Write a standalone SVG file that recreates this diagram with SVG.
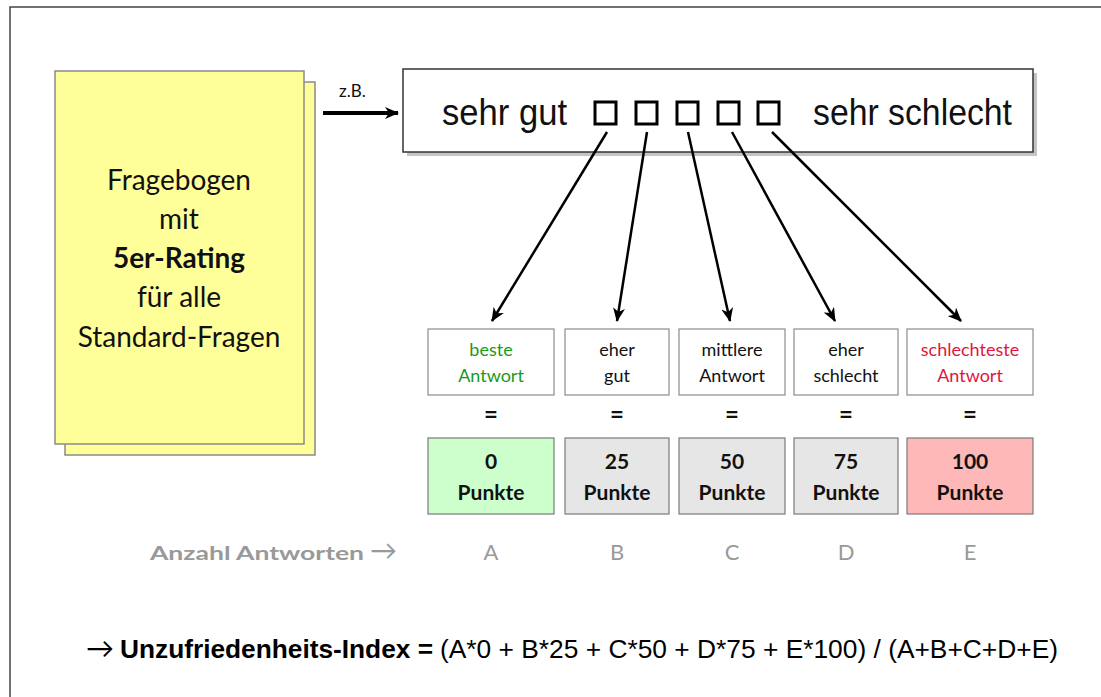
<svg xmlns="http://www.w3.org/2000/svg" width="1101" height="697" viewBox="0 0 1101 697">
<defs>
<style>
.gs{font-family:Lato,"Open Sans","DejaVu Sans",sans-serif;}
.ar{font-family:"Liberation Sans",Arial,sans-serif;}
.sheet{fill:#ffff99;stroke:#8a8a8a;stroke-width:1.5;}
.lbl{fill:#fff;stroke:#8c8c8c;stroke-width:1.2;}
.pts{stroke:#7a7a7a;stroke-width:1.2;}
.conn{stroke:#000;fill:none;stroke-width:2.5;}
.chk{fill:#fff;stroke:#000;stroke-width:3;}
.lt{font-size:18px;text-anchor:middle;}
.pt{font-size:21px;font-weight:bold;text-anchor:middle;fill:#111;}
.eq{font-size:24px;font-weight:bold;text-anchor:middle;fill:#111;}
.let{font-size:22px;text-anchor:middle;fill:#999;}
</style>
<marker id="ah" markerWidth="14" markerHeight="12" refX="13" refY="6" orient="auto" markerUnits="userSpaceOnUse">
<path d="M0,0 L14,6 L0,12 L4,6 Z" fill="#000"/>
</marker>
</defs>
<rect x="10" y="7" width="1200" height="800" fill="#fff" stroke="#444" stroke-width="1.5"/>

<g id="fragebogen">
<rect class="sheet" x="65" y="82" width="250" height="373"/>
<rect class="sheet" x="55" y="71" width="249" height="373"/>
<g class="gs" font-size="28" text-anchor="middle" fill="#111">
<text x="179" y="190">Fragebogen</text>
<text x="179" y="229">mit</text>
<text x="179" y="268" font-weight="bold">5er-Rating</text>
<text x="179" y="307">für alle</text>
<text x="179" y="347">Standard-Fragen</text>
</g>
</g>

<g id="rating">
<rect x="407" y="73" width="630" height="83" fill="#c4c4c4"/>
<rect x="403" y="69" width="630" height="83" fill="#fff" stroke="#333" stroke-width="1.5"/>
<text class="ar" x="442" y="125" font-size="36" fill="#111" textLength="125" lengthAdjust="spacingAndGlyphs">sehr gut</text>
<text class="ar" x="813" y="125" font-size="36" fill="#111" textLength="199" lengthAdjust="spacingAndGlyphs">sehr schlecht</text>
<rect class="chk" x="595" y="102" width="21" height="22"/>
<rect class="chk" x="636" y="102" width="21" height="22"/>
<rect class="chk" x="677" y="102" width="21" height="22"/>
<rect class="chk" x="718" y="102" width="21" height="22"/>
<rect class="chk" x="758" y="102" width="21" height="22"/>
</g>

<g id="connectors">
<line x1="323" y1="113" x2="398" y2="113" stroke="#000" stroke-width="4" marker-end="url(#ah)"/>
<line class="conn" x1="607" y1="132" x2="492" y2="321" marker-end="url(#ah)" stroke-width="3"/>
<line class="conn" x1="647" y1="132" x2="617" y2="321" marker-end="url(#ah)"/>
<line class="conn" x1="688" y1="132" x2="730" y2="321" marker-end="url(#ah)" stroke-width="3.5"/>
<line class="conn" x1="732" y1="132" x2="835" y2="321" marker-end="url(#ah)"/>
<line class="conn" x1="772" y1="132" x2="961" y2="321" marker-end="url(#ah)"/>
</g>
<text class="gs" x="339" y="97" font-size="17" fill="#111">z.B.</text>

<g id="opt1">
<rect class="lbl" x="428" y="329" width="126" height="66"/>
<text class="gs lt" x="491" y="356" fill="#1a9a1a">beste</text>
<text class="gs lt" x="491" y="382" fill="#1a9a1a">Antwort</text>
<text class="gs eq" x="491" y="423">=</text>
<rect class="pts" x="428" y="438" width="126" height="76" fill="#ccffcc"/>
<text class="gs pt" x="491" y="469">0</text>
<text class="gs pt" x="491" y="500">Punkte</text>
<text class="gs let" x="491" y="560">A</text>
</g>
<g id="opt2">
<rect class="lbl" x="565" y="329" width="104" height="66"/>
<text class="gs lt" x="617" y="356" fill="#111">eher</text>
<text class="gs lt" x="617" y="382" fill="#111">gut</text>
<text class="gs eq" x="617" y="423">=</text>
<rect class="pts" x="565" y="438" width="104" height="76" fill="#e6e6e6"/>
<text class="gs pt" x="617" y="469">25</text>
<text class="gs pt" x="617" y="500">Punkte</text>
<text class="gs let" x="617" y="560">B</text>
</g>
<g id="opt3">
<rect class="lbl" x="679" y="329" width="106" height="66"/>
<text class="gs lt" x="732" y="356" fill="#111">mittlere</text>
<text class="gs lt" x="732" y="382" fill="#111">Antwort</text>
<text class="gs eq" x="732" y="423">=</text>
<rect class="pts" x="679" y="438" width="106" height="76" fill="#e6e6e6"/>
<text class="gs pt" x="732" y="469">50</text>
<text class="gs pt" x="732" y="500">Punkte</text>
<text class="gs let" x="732" y="560">C</text>
</g>
<g id="opt4">
<rect class="lbl" x="794" y="329" width="104" height="66"/>
<text class="gs lt" x="846" y="356" fill="#111">eher</text>
<text class="gs lt" x="846" y="382" fill="#111">schlecht</text>
<text class="gs eq" x="846" y="423">=</text>
<rect class="pts" x="794" y="438" width="104" height="76" fill="#e6e6e6"/>
<text class="gs pt" x="846" y="469">75</text>
<text class="gs pt" x="846" y="500">Punkte</text>
<text class="gs let" x="846" y="560">D</text>
</g>
<g id="opt5">
<rect class="lbl" x="907" y="329" width="126" height="66"/>
<text class="gs lt" x="970" y="356" fill="#e0163c">schlechteste</text>
<text class="gs lt" x="970" y="382" fill="#e0163c">Antwort</text>
<text class="gs eq" x="970" y="423">=</text>
<rect class="pts" x="907" y="438" width="126" height="76" fill="#ffb8b8"/>
<text class="gs pt" x="970" y="469">100</text>
<text class="gs pt" x="970" y="500">Punkte</text>
<text class="gs let" x="970" y="560">E</text>
</g>

<text class="gs" x="150" y="560" font-size="19" font-weight="bold" fill="#999" textLength="214" lengthAdjust="spacingAndGlyphs">Anzahl Antworten</text>
<text class="gs" x="370" y="560" font-size="27" fill="#999">→</text>

<g id="formula" class="ar" font-size="25" fill="#000">
<text class="gs" x="86" y="658" font-size="28" fill="#000">→</text>
<text x="120" y="658" font-weight="bold" textLength="313" lengthAdjust="spacingAndGlyphs">Unzufriedenheits-Index =</text>
<text x="440" y="658" textLength="618" lengthAdjust="spacingAndGlyphs">(A*0 + B*25 + C*50 + D*75 + E*100) / (A+B+C+D+E)</text>
</g>
</svg>
